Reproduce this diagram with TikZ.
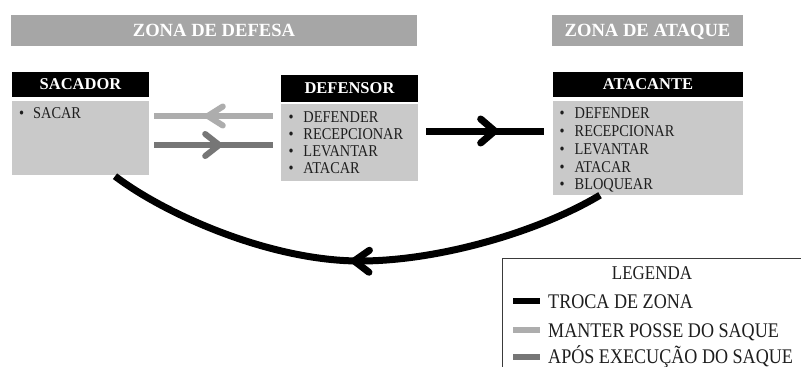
\documentclass[tikz,border=0pt]{standalone}
\usepackage{fontspec}
\setmainfont{Liberation Serif}
\newfontfamily\narrowfont[FakeStretch=0.87]{Liberation Serif}
\usetikzlibrary{calc,decorations.markings}
\definecolor{zonegray}{HTML}{A6A6A6}
\definecolor{bodygray}{HTML}{C9C9C9}
\definecolor{lightarr}{HTML}{ADADAD}
\definecolor{darkarr}{HTML}{767676}
\definecolor{legline}{HTML}{3A3A3A}
\definecolor{txt}{HTML}{1E1E1E}
\newcommand\bul[1]{\makebox[#1][l]{\textbullet}}
\tikzset{
  zonebar/.style={fill=zonegray, minimum height=31pt, inner sep=0pt, text depth=0pt, text=white,
    font=\fontsize{18.6}{20}\selectfont\bfseries},
  headbox/.style={fill=black, inner sep=0pt, text depth=0pt, text=white,
    font=\fontsize{16.5}{18}\selectfont\bfseries},
  bodybox/.style={fill=bodygray, inner sep=0pt},
  item/.style={anchor=base west, inner sep=0pt, text=txt, font=\narrowfont\fontsize{16.5}{18}\selectfont},
  legtext/.style={inner sep=0pt, text=txt, font=\narrowfont\fontsize{20.8}{24}\selectfont},
  conn/.style={line width=#1},
  chev/.style n args={4}{postaction={decorate}, decoration={markings,
      mark=at position #1 with {\draw[#2, line width=#3, line cap=round, line join=round] #4;}}},
}
\begin{document}
\begin{tikzpicture}[x=1pt,y=-1pt]
\clip (0,0) rectangle (801,367);
\fill[white] (0,0) rectangle (801,367);

% zone bars
\node[zonebar, minimum width=406pt] (zdef) at (214,30.5) {ZONA DE DEFESA};
\node[zonebar, minimum width=191pt] (zatk) at (647.5,30.5) {ZONA DE ATAQUE};

% SACADOR
\node[headbox, minimum width=137pt, minimum height=25pt] (sachead) at (80.5,84.5) {SACADOR};
\node[bodybox, minimum width=137pt, minimum height=74pt] (sacbody) at (80.5,138) {};
\node[item] (sac1) at ($(sacbody.north west)+(7.2,17.5)$) {\bul{14pt}SACAR};

% DEFENSOR
\node[headbox, minimum width=137pt, minimum height=27pt] (defhead) at (349.5,88.5) {DEFENSOR};
\node[bodybox, minimum width=137pt, minimum height=77pt] (defbody) at (349.5,142.5) {};
\foreach \t [count=\i] in {DEFENDER, RECEPCIONAR, LEVANTAR, ATACAR}
  \node[item] (def\i) at ($(defbody.north west)+(7.5,{18.5+16.9*(\i-1)})$) {\bul{15pt}\t};

% ATACANTE
\node[headbox, minimum width=190pt, minimum height=25pt] (atkhead) at (648,84.5) {ATACANTE};
\node[bodybox, minimum width=190pt, minimum height=94pt] (atkbody) at (648,148) {};
\foreach \t [count=\i] in {DEFENDER, RECEPCIONAR, LEVANTAR, ATACAR, BLOQUEAR}
  \node[item] (atk\i) at ($(atkbody.north west)+(6.7,{17.5+17.9*(\i-1)})$) {\bul{15pt}\t};

% straight connectors
\draw[conn=6pt, draw=lightarr, chev={65pt}{lightarr}{6pt}{(-15,9.5) -- (0,0) -- (-15,-9.5)}]
  ($(defbody.west)+(-8,-26.5)$) -- ($(sacbody.east)+(5,-22)$);
\draw[conn=6pt, draw=darkarr, chev={65pt}{darkarr}{6pt}{(-14,11) -- (0,0) -- (-14,-11)}]
  ($(sacbody.east)+(5,7)$) -- ($(defbody.west)+(-8,2.5)$);
\draw[conn=7pt, draw=black, chev={68.5pt}{black}{7pt}{(-14,12) -- (0,0) -- (-14,-12)}]
  ($(defbody.east)+(8,-11.5)$) -- ($(atkbody.west)+(-9,-17)$);

% curved connector
\coordinate (cmid) at (360,261);
\draw[conn=7pt, draw=black, chev={0.5}{black}{7pt}{(-15,11) -- (0,0) -- (-15,-11)}]
  ($(atkbody.south)+(-48,0)$) .. controls +(-60,36) and +(80,0) .. (cmid)
  .. controls +(-90,0) and +(50,38) .. ($(sacbody.south)+(34.5,1)$);

% legend
\node[draw=legline, line width=1pt, fill=white, anchor=north west, minimum width=330pt, minimum height=130pt, inner sep=0pt] (leg) at (502,258) {};
\node[legtext, anchor=base, font=\narrowfont\fontsize{19.5}{22}\selectfont] (legtitle) at ($(leg.north west)+(150,21.5)$) {LEGENDA};
\draw[line width=6pt, black] ($(leg.north west)+(11,43)$) -- ($(leg.north west)+(38,43)$);
\node[legtext, anchor=base west] (leg1) at ($(leg.north west)+(46,50)$) {TROCA DE ZONA};
\draw[line width=5.5pt, lightarr] ($(leg.north west)+(11,72)$) -- ($(leg.north west)+(38,72)$);
\node[legtext, anchor=base west] (leg2) at ($(leg.north west)+(46,79)$) {MANTER POSSE DO SAQUE};
\draw[line width=5.5pt, darkarr] ($(leg.north west)+(11,99)$) -- ($(leg.north west)+(38,99)$);
\node[legtext, anchor=base west] (leg3) at ($(leg.north west)+(46,105.5)$) {APÓS EXECUÇÃO DO SAQUE};
\end{tikzpicture}
\end{document}
